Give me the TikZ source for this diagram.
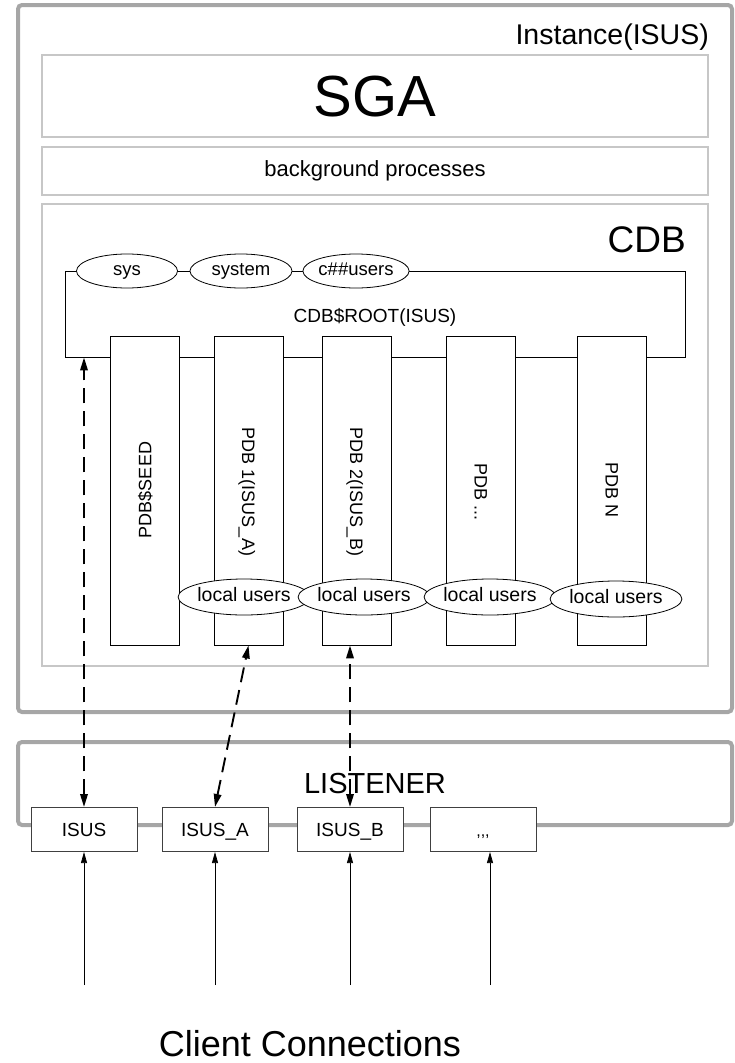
\documentclass[tikz,border=0pt]{standalone}
\usepackage{fontspec}
\setmainfont{Liberation Sans}
\usetikzlibrary{shapes.geometric,arrows.meta}
\newcommand{\fsz}[1]{\fontsize{#1}{#1}\selectfont}
\begin{document}
\begin{tikzpicture}[x=1pt,y=-1pt,
  th/.style={text height=#1, text depth=0pt},
  tc/.style 2 args={text height=#1, text depth=#2},
  frame/.style={draw=black!35, line width=4pt, rounded corners=4pt, inner sep=0pt},
  thinbox/.style={draw=black!22, line width=1.5pt, inner sep=0pt, minimum width=666pt},
  col/.style={draw=black, line width=0.9pt, fill=white, minimum width=69pt, minimum height=309pt, inner sep=0pt},
  ell/.style={ellipse, draw=black, line width=0.8pt, fill=white, inner sep=0pt, minimum height=34pt, font=\fsz{18.5}, tc={12.6pt}{3.7pt}},
  luser/.style={ell, minimum width=112pt, minimum height=36pt, font=\fsz{19.5}, tc={13.3pt}{3.9pt}},
  lbox/.style={draw=black!75, line width=1pt, fill=white, minimum width=106pt, minimum height=44pt, inner sep=0pt, font=\fsz{19}, th=13.6pt},
  coltext/.style={font=\fsz{18}, inner sep=0pt, th=12.9pt},
  dasharrow/.style={line width=1.9pt, dash pattern=on 15pt off 8pt, {Triangle[length=13pt,width=7.5pt]}-{Triangle[length=13pt,width=7.5pt]}},
  clientarrow/.style={line width=0.7pt, -{Triangle[length=11pt,width=6pt]}},
]
\useasboundingbox (0,0) rectangle (734,1063);
% Instance frame
\node[frame, minimum width=714pt, minimum height=707pt] (inst) at (375,358.5) {};
\node[anchor=east, font=\fsz{28.5}, inner sep=0pt, th=20.4pt] (insttxt) at (709,34) {Instance(ISUS)};
% SGA and background
\node[thinbox, minimum height=82pt, font=\fsz{58}, th=41.5pt] (sga) at (375,96) {SGA};
\node[thinbox, minimum height=48pt, font=\fsz{22}, tc={15pt}{4.4pt}] (bg) at (375,171) {background processes};
% CDB
\node[thinbox, minimum height=462pt] (cdb) at (375,435) {};
\node[anchor=east, font=\fsz{37}, inner sep=0pt, th=26.5pt] (cdbtxt) at (686,239) {CDB};
% root
\node[draw=black, line width=0.9pt, minimum width=620pt, minimum height=86pt, inner sep=0pt] (root) at (375,314) {};
\node[font=\fsz{19}, inner sep=0pt, th=13.6pt] (roottxt) at (375,316) {CDB\$ROOT(ISUS)};
\node[ell, minimum width=101pt] (sys) at (127,271) {sys};
\node[ell, minimum width=102pt] (system) at (241,271) {system};
\node[ell, minimum width=102pt] (cusers) at (356,271) {c\#\#users};
% PDB columns
\node[col] (seed) at (145,490.5) {};
\node[col] (pdb1) at (248.5,490.5) {};
\node[col] (pdb2) at (356.5,490.5) {};
\node[col] (pdbd) at (481,490.5) {};
\node[col] (pdbn) at (612,490.5) {};
\node[coltext, rotate=90] (seedt) at (145,490) {PDB\$SEED};
\node[coltext, rotate=-90] (pdb1t) at (248.5,492) {PDB 1(ISUS\_A)};
\node[coltext, rotate=-90] (pdb2t) at (356.5,492) {PDB 2(ISUS\_B)};
\node[coltext, rotate=-90] (pdbdt) at (481,492) {PDB ...};
\node[coltext, rotate=-90] (pdbnt) at (612,490) {PDB N};
\node[luser] (lu1) at (244,597) {local users};
\node[luser] (lu2) at (364,597) {local users};
\node[luser] (lu3) at (490,597) {local users};
\node[luser] (lu4) at (616,599) {local users};
% listener
\node[frame, minimum width=714pt, minimum height=83pt] (lsn) at (375,783.5) {};
\node[font=\fsz{29}, inner sep=0pt, th=20.8pt] (lsntxt) at (375,783) {LISTENER};
\node[lbox] (isus) at (84,829.5) {ISUS};
\node[lbox] (isusa) at (215,829.5) {ISUS\_A};
\node[lbox] (isusb) at (350,829.5) {ISUS\_B};
\node[lbox, font=\fsz{16}] (dots) at (483,829.5) {{,}{,}{,}};
% dashed connections
\draw[dasharrow] (isus.north) -- (isus.north |- root.south);
\draw[dasharrow] (isusa.north) -- (pdb1.south);
\draw[dasharrow] (isusb.north) -- (isusb.north |- pdb2.south);
% client connections
\coordinate (c1) at (84,985);
\coordinate (c2) at (215,985);
\coordinate (c3) at (350,985);
\coordinate (c4) at (490,985);
\draw[clientarrow] (c1) -- (isus.south);
\draw[clientarrow] (c2) -- (isusa.south);
\draw[clientarrow] (c3) -- (isusb.south);
\draw[clientarrow] (c4) -- (c4 |- dots.south);
\node[font=\fsz{36}, inner sep=0pt, th=25.8pt] (client) at (310,1044) {Client Connections};
\end{tikzpicture}
\end{document}
